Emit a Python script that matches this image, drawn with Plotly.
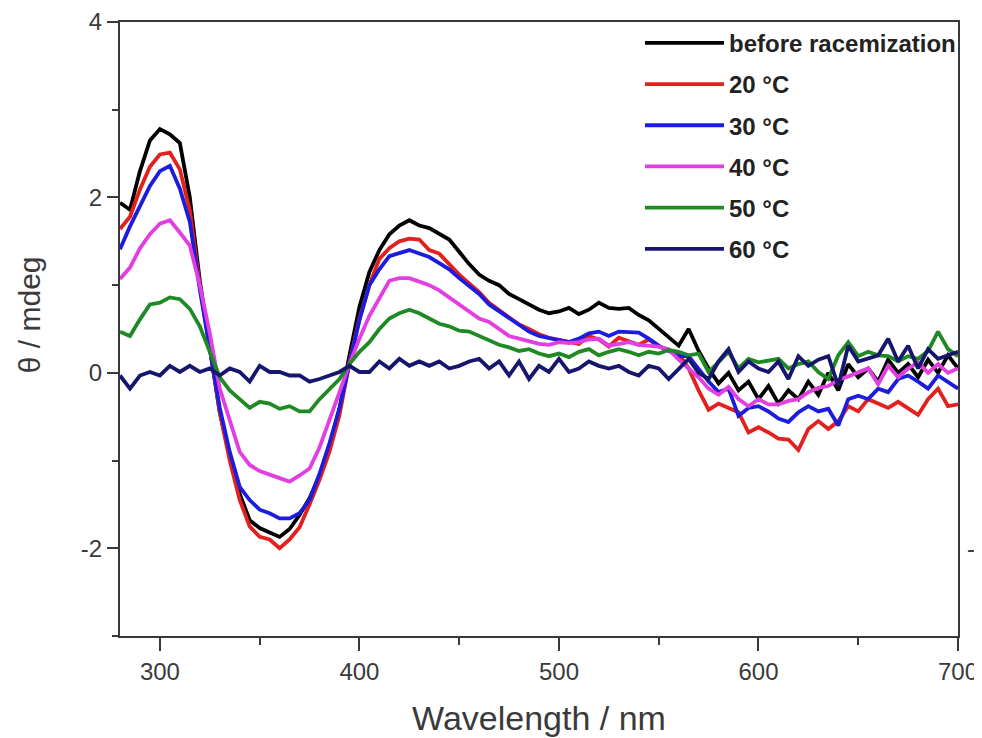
import plotly.graph_objects as go

wavelength = list(range(280, 701, 5))

before_racemization = [
    1.94, 1.86, 2.30, 2.65, 2.78, 2.72, 2.62, 2.00, 1.05, 0.30,
    -0.45, -0.95, -1.38, -1.68, -1.77, -1.82, -1.87, -1.78, -1.62, -1.43,
    -1.17, -0.83, -0.41, 0.20, 0.75, 1.15, 1.40, 1.58, 1.68, 1.74,
    1.68, 1.65, 1.58, 1.52, 1.38, 1.24, 1.12, 1.05, 1.00, 0.90,
    0.84, 0.78, 0.72, 0.68, 0.70, 0.74, 0.67, 0.72, 0.80, 0.74,
    0.73, 0.74, 0.66, 0.60, 0.50, 0.40, 0.31, 0.50, 0.25, 0.05,
    -0.12, 0.00, -0.20, -0.10, -0.30, -0.15, -0.35, -0.20, -0.30, -0.10,
    -0.25, 0.00, -0.20, 0.10, -0.05, 0.05, -0.10, 0.15, 0.00, 0.10,
    -0.05, 0.15, 0.00, 0.20, 0.05,
]

t20 = [
    1.64, 1.78, 2.09, 2.35, 2.49, 2.51, 2.32, 1.85, 1.00, 0.28,
    -0.45, -1.00, -1.45, -1.75, -1.87, -1.90, -2.00, -1.90, -1.76, -1.50,
    -1.22, -0.90, -0.48, 0.12, 0.62, 1.00, 1.30, 1.42, 1.50, 1.53,
    1.52, 1.40, 1.36, 1.24, 1.12, 1.02, 0.92, 0.80, 0.72, 0.63,
    0.55, 0.50, 0.44, 0.40, 0.38, 0.36, 0.33, 0.42, 0.38, 0.30,
    0.40, 0.36, 0.32, 0.38, 0.30, 0.26, 0.22, 0.05, -0.20, -0.42,
    -0.35, -0.40, -0.45, -0.68, -0.62, -0.68, -0.75, -0.76, -0.88, -0.64,
    -0.55, -0.64, -0.55, -0.38, -0.44, -0.30, -0.35, -0.40, -0.33, -0.40,
    -0.48, -0.30, -0.18, -0.38, -0.36,
]

t30 = [
    1.41, 1.67, 1.90, 2.13, 2.30, 2.36, 2.10, 1.72, 0.95, 0.30,
    -0.40, -0.90, -1.30, -1.45, -1.56, -1.60, -1.66, -1.66, -1.60, -1.45,
    -1.15, -0.80, -0.40, 0.10, 0.60, 1.00, 1.18, 1.33, 1.37, 1.40,
    1.36, 1.32, 1.25, 1.18, 1.08, 0.99, 0.90, 0.78, 0.70, 0.62,
    0.54, 0.47, 0.42, 0.40, 0.38, 0.35, 0.39, 0.45, 0.47, 0.42,
    0.47, 0.47, 0.46, 0.39, 0.31, 0.25, 0.19, 0.19, 0.05, -0.10,
    -0.22, -0.18, -0.49, -0.40, -0.38, -0.44, -0.52, -0.56, -0.45, -0.38,
    -0.44, -0.41, -0.60, -0.30, -0.26, -0.30, -0.18, -0.22, -0.07, -0.03,
    -0.10, -0.18, -0.03, -0.10, -0.18,
]

t40 = [
    1.07, 1.20, 1.42, 1.58, 1.70, 1.74, 1.60, 1.45, 1.00, 0.45,
    -0.18, -0.55, -0.90, -1.05, -1.12, -1.16, -1.20, -1.24, -1.17, -1.09,
    -0.85, -0.52, -0.22, 0.10, 0.39, 0.65, 0.86, 1.05, 1.08, 1.08,
    1.04, 1.00, 0.94, 0.86, 0.78, 0.70, 0.62, 0.58, 0.50, 0.42,
    0.39, 0.36, 0.33, 0.32, 0.35, 0.34, 0.35, 0.38, 0.39, 0.31,
    0.33, 0.35, 0.32, 0.31, 0.30, 0.27, 0.15, 0.05, -0.05, -0.18,
    -0.25, -0.16, -0.30, -0.38, -0.30, -0.36, -0.36, -0.32, -0.30, -0.22,
    -0.17, -0.15, -0.08, -0.04, 0.00, 0.05, -0.13, 0.08, -0.05, 0.05,
    0.12, 0.00, 0.10, 0.00, 0.05,
]

t50 = [
    0.47, 0.42, 0.61, 0.78, 0.80, 0.86, 0.84, 0.73, 0.53, 0.25,
    -0.05, -0.20, -0.30, -0.40, -0.33, -0.35, -0.41, -0.38, -0.44, -0.44,
    -0.30, -0.18, -0.07, 0.10, 0.24, 0.35, 0.50, 0.62, 0.68, 0.72,
    0.68, 0.62, 0.56, 0.53, 0.48, 0.47, 0.42, 0.36, 0.32, 0.29,
    0.25, 0.27, 0.22, 0.19, 0.22, 0.18, 0.24, 0.27, 0.20, 0.24,
    0.27, 0.24, 0.20, 0.24, 0.22, 0.26, 0.24, 0.20, 0.22, 0.01,
    0.12, 0.24, 0.05, 0.16, 0.12, 0.14, 0.16, 0.05, 0.10, 0.13,
    0.01, -0.07, 0.20, 0.35, 0.19, 0.24, 0.20, 0.19, 0.13, 0.19,
    0.16, 0.25, 0.47, 0.27, 0.19,
]

t60 = [
    -0.03, -0.18, -0.03, 0.01, -0.03, 0.08, 0.01, 0.08, 0.01, 0.05,
    -0.03, 0.05, 0.01, -0.10, 0.08, 0.01, 0.01, -0.03, -0.03, -0.10,
    -0.07, -0.03, 0.01, 0.08, 0.01, 0.01, 0.13, 0.05, 0.16, 0.08,
    0.13, 0.08, 0.13, 0.05, 0.08, 0.13, 0.16, 0.05, 0.13, -0.03,
    0.13, -0.07, 0.08, 0.01, 0.16, 0.01, 0.05, 0.13, 0.08, 0.05,
    0.08, 0.01, -0.03, 0.08, 0.05, -0.07, 0.05, 0.16, 0.00, -0.07,
    0.13, 0.27, 0.01, 0.13, 0.05, 0.01, 0.13, -0.07, 0.19, 0.08,
    0.15, 0.19, -0.15, 0.31, 0.13, 0.16, 0.20, 0.39, 0.13, 0.31,
    0.05, 0.27, 0.16, 0.20, 0.24,
]

series_names = ["before racemization", "20 °C", "30 °C", "40 °C", "50 °C", "60 °C"]
series_values = [before_racemization, t20, t30, t40, t50, t60]
series_colors = ["#000000", "#e3201e", "#1c1cdc", "#e23ee2", "#1f8a24", "#16166e"]

x_tick_vals = [300, 400, 500, 600, 700]
x_tick_text = ["300", "400", "500", "600", "700"]
y_tick_vals = [-2, 0, 2, 4]
y_tick_text = ["-2", "0", "2", "4"]

right_panel_labels = ["2", "1", "0", "-1"]
right_panel_label_pos = [4, 2, 0, -2]

FONT = "Arial, Liberation Sans, sans-serif"
AXC = "#3a3a3a"

fig = go.Figure()
for i, (name, vals, col) in enumerate(zip(series_names, series_values, series_colors)):
    fig.add_trace(go.Scatter(
        x=wavelength, y=vals, mode="lines", name=name,
        legendgroup=f"g{i}",
        line=dict(color=col, width=3.8),
    ))

for txt, yv in zip(right_panel_labels, right_panel_label_pos):
    fig.add_annotation(
        xref="paper", yref="y", x=1.0165 if not txt.startswith("-") else 1.008,
        y=yv, text=txt, showarrow=False, xanchor="left",
        font=dict(family=FONT, size=24, color=AXC),
    )

# y-axis title (placed slightly above the plot-area centre, as in the reference)
fig.add_annotation(
    xref="paper", yref="paper", x=-0.107, y=0.523, text="θ / mdeg",
    textangle=-90, showarrow=False, xanchor="center", yanchor="middle",
    font=dict(family=FONT, size=30, color=AXC),
)

fig.update_layout(
    width=974, height=730,
    margin=dict(l=112, r=24, t=14, b=102, autoexpand=False),
    paper_bgcolor="white", plot_bgcolor="white",
    font=dict(family=FONT, color=AXC),
    showlegend=True,
    legend=dict(
        x=0.6205, y=1.002, xanchor="left", yanchor="top",
        bgcolor="rgba(0,0,0,0)", borderwidth=0,
        font=dict(family=FONT, size=24, color="#222222", weight="bold"),
        itemwidth=79, traceorder="grouped", tracegroupgap=7,
    ),
    xaxis=dict(
        range=[280, 700], tickmode="array", tickvals=x_tick_vals, ticktext=x_tick_text,
        ticks="outside", ticklen=13, tickwidth=2, tickcolor=AXC,
        showline=True, linewidth=2, linecolor=AXC, mirror=True,
        showgrid=False, zeroline=False, automargin=False,
        tickfont=dict(family=FONT, size=24, color=AXC),
        minor=dict(tickvals=[350, 450, 550, 650], ticks="outside", ticklen=7, tickwidth=2, tickcolor=AXC),
        title=dict(text="Wavelength / nm", font=dict(family=FONT, size=34, color=AXC), standoff=22),
    ),
    yaxis=dict(
        range=[-3, 4], tickmode="array", tickvals=y_tick_vals, ticktext=y_tick_text,
        ticks="outside", ticklen=11, tickwidth=2, tickcolor=AXC,
        showline=True, linewidth=2, linecolor=AXC, mirror=True,
        showgrid=False, zeroline=False, automargin=False,
        tickfont=dict(family=FONT, size=24, color=AXC),
        minor=dict(tickvals=[-3, -1, 1, 3], ticks="outside", ticklen=6, tickwidth=2, tickcolor=AXC),
    ),
)

fig.write_html("out.html")
